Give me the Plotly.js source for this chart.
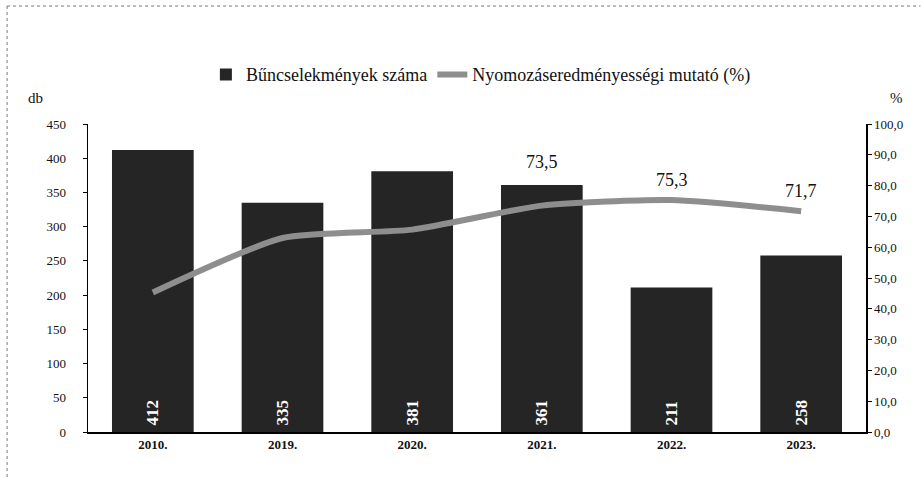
<!DOCTYPE html>
<html>
<head>
<meta charset="utf-8">
<script src="https://cdn.plot.ly/plotly-3.0.1.min.js"></script>
<style>html,body{margin:0;padding:0;background:#fff;}</style>
</head>
<body>
<div id="chart" style="width:921px;height:478px;"></div>
<script>
const categories = ["2010.", "2019.", "2020.", "2021.", "2022.", "2023."];
const crimeCounts = [412, 335, 381, 361, 211, 258];
const clearanceRate = [45.3, 63.0, 65.7, 73.5, 75.3, 71.7];
const labelledRate = [null, null, null, "73,5", "75,3", "71,7"];
const labelShift = [0, 0, 0, 32, 8, 8];

const serif = "Liberation Serif, Times New Roman, serif";
const xPos = categories.map((c, i) => i);

const barTrace = {
  type: "bar",
  name: "Bűncselekmények száma",
  x: xPos,
  y: crimeCounts,
  marker: {color: "#252525", line: {width: 0}},
  width: 0.63,
  text: crimeCounts.map(v => "\u2009" + v),
  textposition: "inside",
  insidetextanchor: "start",
  textangle: -90,
  textfont: {family: serif, size: 17, color: "#ffffff", weight: "bold"},
  hoverinfo: "y"
};

const lineTrace = {
  type: "scatter",
  mode: "lines",
  name: "Nyomozáseredményességi mutató (%)",
  x: xPos,
  y: clearanceRate,
  yaxis: "y2",
  line: {color: "#8e8e8e", width: 6, shape: "spline", smoothing: 0.6},
  hoverinfo: "y"
};

const annotations = [];
xPos.forEach((xv, i) => {
  if (labelledRate[i] !== null) {
    annotations.push({
      x: xv, y: clearanceRate[i], xref: "x", yref: "y2",
      text: labelledRate[i], showarrow: false,
      yshift: labelShift[i] + 12,
      font: {family: serif, size: 18, color: "#111"}
    });
  }
});
annotations.push({x: 0, y: 1, xref: "paper", yref: "paper", xanchor: "left", yanchor: "bottom",
  xshift: -62, yshift: 16, text: "db", showarrow: false, font: {family: serif, size: 15, color: "#111"}});
annotations.push({x: 1, y: 1, xref: "paper", yref: "paper", xanchor: "left", yanchor: "bottom",
  xshift: 22, yshift: 16, text: "%", showarrow: false, font: {family: serif, size: 15, color: "#111"}});

const layout = {
  width: 921, height: 478,
  margin: {l: 88, r: 55, t: 124, b: 46},
  paper_bgcolor: "#ffffff",
  plot_bgcolor: "#ffffff",
  separators: ", ",
  showlegend: true,
  legend: {
    orientation: "h", x: 0.505, xanchor: "center", y: 1.16, yanchor: "middle",
    font: {family: serif, size: 18, color: "#111"},
    itemwidth: 30, tracegroupgap: 0, bgcolor: "rgba(0,0,0,0)"
  },
  xaxis: {
    range: [-0.5, 5.5],
    tickvals: xPos, ticktext: categories,
    showline: true, linecolor: "#000", linewidth: 1.5,
    ticks: "", showgrid: false, zeroline: false,
    tickfont: {family: serif, size: 13, color: "#111", weight: "bold"}
  },
  yaxis: {
    range: [0, 450], dtick: 50, tick0: 0,
    showline: true, linecolor: "#000", linewidth: 1.5,
    ticks: "outside", ticklen: 4, tickcolor: "#000",
    showgrid: false, zeroline: false,
    tickfont: {family: serif, size: 13, color: "#111"},
    ticklabelstandoff: 14
  },
  yaxis2: {
    overlaying: "y", side: "right",
    range: [0, 100], dtick: 10, tick0: 0, tickformat: ".1f",
    showline: true, linecolor: "#000", linewidth: 1.5,
    ticks: "outside", ticklen: 4, tickcolor: "#000",
    showgrid: false, zeroline: false,
    tickfont: {family: serif, size: 13, color: "#111"}
  },
  annotations: annotations,
  shapes: [
    {type: "line", xref: "paper", yref: "paper", x0: -0.104, x1: 1.07, y0: 1.383, y1: 1.383,
     line: {color: "#777", width: 1, dash: "dot"}},
    {type: "line", xref: "paper", yref: "paper", x0: -0.104, x1: -0.104, y0: 1.383, y1: -0.15,
     line: {color: "#777", width: 1, dash: "dot"}}
  ]
};

Plotly.newPlot("chart", [barTrace, lineTrace], layout, {displayModeBar: false, staticPlot: true});
</script>
</body>
</html>
